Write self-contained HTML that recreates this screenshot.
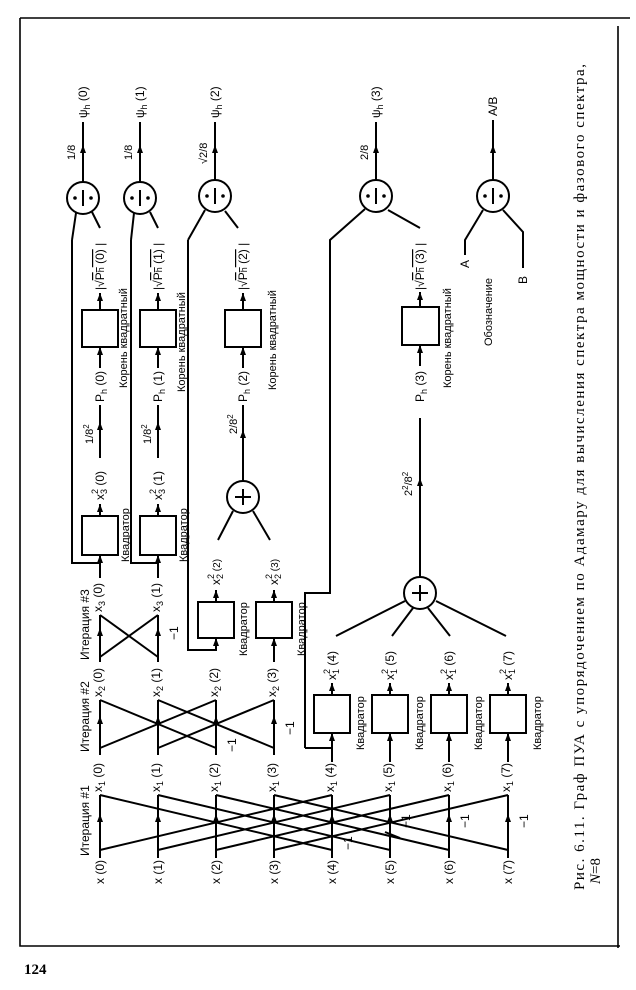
<!DOCTYPE html>
<html><head><meta charset="utf-8"><style>
html,body{margin:0;padding:0;background:#fff;}
svg{display:block;}
text{font-family:"Liberation Sans",sans-serif;fill:#000;}
.s{font-family:"Liberation Serif",serif;}
</style></head><body>
<svg width="636" height="990" viewBox="0 0 636 990" xmlns="http://www.w3.org/2000/svg">
<g stroke="#000" stroke-width="2" fill="none">
<path d="M20 18 H630 M618 26 V948 M20 18 V946 H620" stroke-width="1.6"/>
<path d="M100 850 L332 795 M332 850 L100 795 M158 850 L390 795 M390 850 L158 795 M216 850 L449 795 M449 850 L216 795 M274 850 L508 795 M508 850 L274 795"/>
<path d="M100 858 V795 M158 858 V795 M216 858 V795 M274 858 V795 M332 858 V795 M390 858 V795 M449 858 V795 M508 858 V795"/>
<path d="M385 832 L400 838"/>
<path d="M100 748 L216 700 M216 748 L100 700 M158 748 L274 700 M274 748 L158 700"/>
<path d="M100 755 V700 M158 755 V700 M216 755 V700 M274 755 V700"/>
<path d="M100 657 L158 615 M158 657 L100 615 M100 662 V615 M158 662 V615"/>
<path d="M188 240 V650 H216 V638 M274 662 V638"/>
<rect x="198" y="602" width="36" height="36"/>
<rect x="256" y="602" width="36" height="36"/>
<path d="M216 602 V590 M274 602 V590"/>
<path d="M100 578 V555 M158 578 V555 M72 240 V563 H100 M131 240 V563 H158"/>
<rect x="82" y="516" width="36" height="39"/>
<rect x="140" y="516" width="36" height="39"/>
<path d="M100 516 V504 M158 516 V504 M100 458 V405 M158 458 V405 M100 368 V347 M158 368 V347"/>
<rect x="82" y="310" width="36" height="37"/>
<rect x="140" y="310" width="36" height="37"/>
<path d="M100 310 V293 M158 310 V293"/>
<circle cx="243" cy="497" r="16"/>
<path d="M235 497 H251 M243 489 V505"/>
<path d="M218 540 L233 511 M270 540 L253 511 M243 481 V405 M243 368 V347"/>
<rect x="225" y="310" width="36" height="37"/>
<path d="M243 310 V293"/>
<path d="M332 762 V733 M390 762 V733 M449 762 V733 M508 762 V733"/>
<rect x="314" y="695" width="36" height="38"/>
<rect x="372" y="695" width="36" height="38"/>
<rect x="431" y="695" width="36" height="38"/>
<rect x="490" y="695" width="36" height="38"/>
<path d="M332 695 V683 M390 695 V683 M449 695 V683 M508 695 V683"/>
<path d="M305 748 H332 M305 748 V593 H330 V240 L365 209"/>
<circle cx="420" cy="593" r="16"/>
<path d="M412 593 H428 M420 585 V601"/>
<path d="M336 636 L405 601 M392 636 L413 608 M450 636 L428 608 M506 636 L436 601"/>
<path d="M420 577 V418 M420 366 V345"/>
<rect x="402" y="307" width="37" height="38"/>
<path d="M420 307 V292"/>
<circle cx="83" cy="198" r="16"/><circle cx="140" cy="198" r="16"/><circle cx="215" cy="196" r="16"/><circle cx="376" cy="196" r="16"/><circle cx="493" cy="196" r="16"/>
<path d="M83 190 V206 M140 190 V206 M215 188 V204 M376 188 V204 M493 188 V204"/>
<path d="M72 240 L76 213 M100 228 L92 212 M131 240 L134 213 M158 228 L150 212 M188 240 L205 210 M238 228 L225 211 M420 228 L388 210 M465 255 V240 L483 210 M523 268 V232 L503 210"/>
<path d="M83 182 V122 M140 182 V122 M215 180 V122 M376 180 V122 M493 180 V120"/>
</g>
<g fill="#000">
<polygon points="100,814 97,822 103,822"/><polygon points="158,814 155,822 161,822"/><polygon points="216,814 213,822 219,822"/><polygon points="274,814 271,822 277,822"/><polygon points="332,814 329,822 335,822"/><polygon points="390,814 387,822 393,822"/><polygon points="449,814 446,822 452,822"/><polygon points="508,814 505,822 511,822"/>
<polygon points="100,716 97,724 103,724"/><polygon points="158,716 155,724 161,724"/><polygon points="216,716 213,724 219,724"/><polygon points="274,716 271,724 277,724"/>
<polygon points="100,628 97,636 103,636"/><polygon points="158,628 155,636 161,636"/>
<polygon points="216,638 213,646 219,646"/><polygon points="274,638 271,646 277,646"/>
<polygon points="216,590 213,598 219,598"/><polygon points="274,590 271,598 277,598"/>
<polygon points="100,555 97,563 103,563"/><polygon points="158,555 155,563 161,563"/>
<polygon points="100,504 97,512 103,512"/><polygon points="158,504 155,512 161,512"/>
<polygon points="100,422 97,430 103,430"/><polygon points="158,422 155,430 161,430"/><polygon points="243,430 240,438 246,438"/>
<polygon points="100,347 97,355 103,355"/><polygon points="158,347 155,355 161,355"/><polygon points="243,347 240,355 246,355"/><polygon points="420,345 417,353 423,353"/>
<polygon points="100,293 97,301 103,301"/><polygon points="158,293 155,301 161,301"/><polygon points="243,293 240,301 246,301"/><polygon points="420,292 417,300 423,300"/>
<polygon points="332,733 329,741 335,741"/><polygon points="390,733 387,741 393,741"/><polygon points="449,733 446,741 452,741"/><polygon points="508,733 505,741 511,741"/>
<polygon points="332,683 329,691 335,691"/><polygon points="390,683 387,691 393,691"/><polygon points="449,683 446,691 452,691"/><polygon points="508,683 505,691 511,691"/>
<polygon points="420,478 417,486 423,486"/>
<polygon points="83,145 80,153 86,153"/><polygon points="140,145 137,153 143,153"/><polygon points="215,145 212,153 218,153"/><polygon points="376,145 373,153 379,153"/><polygon points="493,145 490,153 496,153"/>
<circle cx="75" cy="198" r="1.8"/><circle cx="91" cy="198" r="1.8"/><circle cx="132" cy="198" r="1.8"/><circle cx="148" cy="198" r="1.8"/><circle cx="207" cy="196" r="1.8"/><circle cx="223" cy="196" r="1.8"/><circle cx="368" cy="196" r="1.8"/><circle cx="384" cy="196" r="1.8"/><circle cx="485" cy="196" r="1.8"/><circle cx="501" cy="196" r="1.8"/>
</g>
<g font-size="12">
<text transform="translate(104,884) rotate(-90)">x (0)</text>
<text transform="translate(162,884) rotate(-90)">x (1)</text>
<text transform="translate(220,884) rotate(-90)">x (2)</text>
<text transform="translate(278,884) rotate(-90)">x (3)</text>
<text transform="translate(336,884) rotate(-90)">x (4)</text>
<text transform="translate(394,884) rotate(-90)">x (5)</text>
<text transform="translate(453,884) rotate(-90)">x (6)</text>
<text transform="translate(512,884) rotate(-90)">x (7)</text>
<text transform="translate(89,856) rotate(-90)">Итерация #1</text>
<text transform="translate(89,752) rotate(-90)">Итерация #2</text>
<text transform="translate(89,660) rotate(-90)">Итерация #3</text>
<text transform="translate(102,792) rotate(-90)">x<tspan font-size="9" dy="3">1</tspan><tspan dy="-3"> (0)</tspan></text>
<text transform="translate(160,792) rotate(-90)">x<tspan font-size="9" dy="3">1</tspan><tspan dy="-3"> (1)</tspan></text>
<text transform="translate(218,792) rotate(-90)">x<tspan font-size="9" dy="3">1</tspan><tspan dy="-3"> (2)</tspan></text>
<text transform="translate(276,792) rotate(-90)">x<tspan font-size="9" dy="3">1</tspan><tspan dy="-3"> (3)</tspan></text>
<text transform="translate(334,792) rotate(-90)">x<tspan font-size="9" dy="3">1</tspan><tspan dy="-3"> (4)</tspan></text>
<text transform="translate(392,792) rotate(-90)">x<tspan font-size="9" dy="3">1</tspan><tspan dy="-3"> (5)</tspan></text>
<text transform="translate(451,792) rotate(-90)">x<tspan font-size="9" dy="3">1</tspan><tspan dy="-3"> (6)</tspan></text>
<text transform="translate(510,792) rotate(-90)">x<tspan font-size="9" dy="3">1</tspan><tspan dy="-3"> (7)</tspan></text>
<text transform="translate(102,697) rotate(-90)">x<tspan font-size="9" dy="3">2</tspan><tspan dy="-3"> (0)</tspan></text>
<text transform="translate(160,697) rotate(-90)">x<tspan font-size="9" dy="3">2</tspan><tspan dy="-3"> (1)</tspan></text>
<text transform="translate(218,697) rotate(-90)">x<tspan font-size="9" dy="3">2</tspan><tspan dy="-3"> (2)</tspan></text>
<text transform="translate(276,697) rotate(-90)">x<tspan font-size="9" dy="3">2</tspan><tspan dy="-3"> (3)</tspan></text>
<text transform="translate(102,612) rotate(-90)">x<tspan font-size="9" dy="3">3</tspan><tspan dy="-3"> (0)</tspan></text>
<text transform="translate(160,612) rotate(-90)">x<tspan font-size="9" dy="3">3</tspan><tspan dy="-3"> (1)</tspan></text>
<text transform="translate(352,850) rotate(-90)">−1</text>
<text transform="translate(410,828) rotate(-90)">−1</text>
<text transform="translate(469,828) rotate(-90)">−1</text>
<text transform="translate(528,828) rotate(-90)">−1</text>
<text transform="translate(236,752) rotate(-90)">−1</text>
<text transform="translate(294,735) rotate(-90)">−1</text>
<text transform="translate(178,640) rotate(-90)">−1</text>
<text transform="translate(220,585) rotate(-90)">x<tspan font-size="9" dy="3">2</tspan><tspan font-size="9" dx="-5" dy="-9">2</tspan><tspan font-size="10" dy="6"> (2)</tspan></text>
<text transform="translate(278,585) rotate(-90)">x<tspan font-size="9" dy="3">2</tspan><tspan font-size="9" dx="-5" dy="-9">2</tspan><tspan font-size="10" dy="6"> (3)</tspan></text>
<text transform="translate(336,680) rotate(-90)">x<tspan font-size="9" dy="3">1</tspan><tspan font-size="9" dx="-5" dy="-9">2</tspan><tspan dy="6"> (4)</tspan></text>
<text transform="translate(394,680) rotate(-90)">x<tspan font-size="9" dy="3">1</tspan><tspan font-size="9" dx="-5" dy="-9">2</tspan><tspan dy="6"> (5)</tspan></text>
<text transform="translate(453,680) rotate(-90)">x<tspan font-size="9" dy="3">1</tspan><tspan font-size="9" dx="-5" dy="-9">2</tspan><tspan dy="6"> (6)</tspan></text>
<text transform="translate(512,680) rotate(-90)">x<tspan font-size="9" dy="3">1</tspan><tspan font-size="9" dx="-5" dy="-9">2</tspan><tspan dy="6"> (7)</tspan></text>
<text transform="translate(104,500) rotate(-90)">x<tspan font-size="9" dy="3">3</tspan><tspan font-size="9" dx="-5" dy="-9">2</tspan><tspan dy="6"> (0)</tspan></text>
<text transform="translate(162,500) rotate(-90)">x<tspan font-size="9" dy="3">3</tspan><tspan font-size="9" dx="-5" dy="-9">2</tspan><tspan dy="6"> (1)</tspan></text>
<text font-size="11" transform="translate(129,562) rotate(-90)">Квадратор</text>
<text font-size="11" transform="translate(187,562) rotate(-90)">Квадратор</text>
<text font-size="11" transform="translate(247,656) rotate(-90)">Квадратор</text>
<text font-size="11" transform="translate(305,656) rotate(-90)">Квадратор</text>
<text font-size="11" transform="translate(364,750) rotate(-90)">Квадратор</text>
<text font-size="11" transform="translate(423,750) rotate(-90)">Квадратор</text>
<text font-size="11" transform="translate(482,750) rotate(-90)">Квадратор</text>
<text font-size="11" transform="translate(541,750) rotate(-90)">Квадратор</text>
<text font-size="11" transform="translate(93,444) rotate(-90)">1/8<tspan font-size="8" dy="-4">2</tspan></text>
<text font-size="11" transform="translate(151,444) rotate(-90)">1/8<tspan font-size="8" dy="-4">2</tspan></text>
<text font-size="11" transform="translate(237,434) rotate(-90)">2/8<tspan font-size="8" dy="-4">2</tspan></text>
<text font-size="11" transform="translate(412,496) rotate(-90)">2<tspan font-size="8" dy="-4">2</tspan><tspan dy="4">/8</tspan><tspan font-size="8" dy="-4">2</tspan></text>
<text transform="translate(104,402) rotate(-90)">P<tspan font-size="9" dy="3">h</tspan><tspan dy="-3"> (0)</tspan></text>
<text transform="translate(162,402) rotate(-90)">P<tspan font-size="9" dy="3">h</tspan><tspan dy="-3"> (1)</tspan></text>
<text transform="translate(247,402) rotate(-90)">P<tspan font-size="9" dy="3">h</tspan><tspan dy="-3"> (2)</tspan></text>
<text transform="translate(424,402) rotate(-90)">P<tspan font-size="9" dy="3">h</tspan><tspan dy="-3"> (3)</tspan></text>
<text font-size="11" transform="translate(127,388) rotate(-90)">Корень квадратный</text>
<text font-size="11" transform="translate(185,392) rotate(-90)">Корень квадратный</text>
<text font-size="11" transform="translate(276,390) rotate(-90)">Корень квадратный</text>
<text font-size="11" transform="translate(451,388) rotate(-90)">Корень квадратный</text>
<text transform="translate(104,290) rotate(-90)">|√<tspan text-decoration="overline">P<tspan font-size="9">h</tspan> (0)</tspan> |</text>
<text transform="translate(162,290) rotate(-90)">|√<tspan text-decoration="overline">P<tspan font-size="9">h</tspan> (1)</tspan> |</text>
<text transform="translate(247,290) rotate(-90)">|√<tspan text-decoration="overline">P<tspan font-size="9">h</tspan> (2)</tspan> |</text>
<text transform="translate(424,290) rotate(-90)">|√<tspan text-decoration="overline">P<tspan font-size="9">h</tspan> (3)</tspan> |</text>
<text font-size="11" transform="translate(75,160) rotate(-90)">1/8</text>
<text font-size="11" transform="translate(132,160) rotate(-90)">1/8</text>
<text font-size="11" transform="translate(207,164) rotate(-90)">√2/8</text>
<text font-size="11" transform="translate(368,160) rotate(-90)">2/8</text>
<text transform="translate(87,118) rotate(-90)">ψ<tspan font-size="9" dy="3">h</tspan><tspan dy="-3"> (0)</tspan></text>
<text transform="translate(144,118) rotate(-90)">ψ<tspan font-size="9" dy="3">h</tspan><tspan dy="-3"> (1)</tspan></text>
<text transform="translate(219,118) rotate(-90)">ψ<tspan font-size="9" dy="3">h</tspan><tspan dy="-3"> (2)</tspan></text>
<text transform="translate(380,118) rotate(-90)">ψ<tspan font-size="9" dy="3">h</tspan><tspan dy="-3"> (3)</tspan></text>
<text transform="translate(497,116) rotate(-90)">A/B</text>
<text transform="translate(469,268) rotate(-90)">A</text>
<text transform="translate(527,284) rotate(-90)">B</text>
<text font-size="11" transform="translate(492,346) rotate(-90)">Обозначение</text>
</g>
<text class="s" font-size="15" transform="translate(584,890) rotate(-90)" textLength="826" lengthAdjust="spacing">Рис. 6.11. Граф ПУА с упорядочением по Адамару для вычисления спектра мощности и фазового спектра,</text>
<text class="s" font-size="15" font-style="italic" transform="translate(600,884) rotate(-90)">N<tspan font-style="normal">=8</tspan></text>
<text class="s" font-size="15" font-weight="bold" x="24" y="974">124</text>
</svg>
</body></html>
